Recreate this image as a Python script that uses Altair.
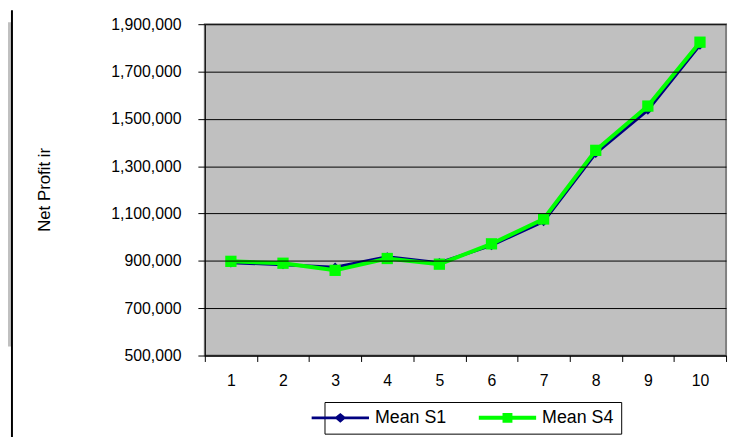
import altair as alt
import pandas as pd

x_labels = ["1", "2", "3", "4", "5", "6", "7", "8", "9", "10"]
mean_s1 = [892000, 884000, 873000, 917000, 892000, 965000, 1066000, 1354000, 1537000, 1812000]
mean_s4 = [898000, 890000, 860000, 910000, 886000, 972000, 1077000, 1367000, 1554000, 1824000]
series_names = ["Mean S1", "Mean S4"]
series_colors = ["#000080", "#00FF00"]
y_ticks = [500000, 700000, 900000, 1100000, 1300000, 1500000, 1700000, 1900000]

df = pd.DataFrame({
    "x": x_labels * 2,
    "value": mean_s1 + mean_s4,
    "series": [series_names[0]] * len(x_labels) + [series_names[1]] * len(x_labels),
})

FONT = "Liberation Sans"

x_enc = alt.X(
    "x:O", sort=x_labels, bandPosition=0.5,
    scale=alt.Scale(type="band", paddingInner=0, paddingOuter=0),
    axis=alt.Axis(title=None, labelAngle=0, tickBand="extent", ticks=True, tickSize=6,
                  tickColor="black", tickWidth=1, domainColor="black", domainWidth=1,
                  labelFont=FONT, labelFontSize=16, labelColor="black", labelPadding=11,
                  labelBaseline="top", grid=False, zindex=1),
)
y_enc = alt.Y(
    "value:Q",
    scale=alt.Scale(domain=[500000, 1900000], nice=False, zero=False),
    axis=alt.Axis(values=y_ticks, format=",d", grid=True, gridColor="black", gridWidth=1,
                  tickSize=7, tickColor="black", tickWidth=1, domainColor="black", domainWidth=1,
                  labelFont=FONT, labelFontSize=16, labelColor="black", labelPadding=17,
                  title="Net Profit ir", titleFont=FONT, titleFontSize=17, titleFontWeight="normal",
                  titleColor="black", titleAngle=270, titleAlign="center", titleBaseline="middle",
                  titleX=-162, titleY=167, zindex=1),
)

base = alt.Chart(df).encode(x=x_enc, y=y_enc)

line1 = base.transform_filter(alt.datum.series == series_names[0]).mark_line(
    color=series_colors[0], strokeWidth=3)
pts1 = base.transform_filter(alt.datum.series == series_names[0]).mark_point(
    shape="diamond", filled=True, color=series_colors[0], size=90, opacity=1)
line4 = base.transform_filter(alt.datum.series == series_names[1]).mark_line(
    color=series_colors[1], strokeWidth=4)
pts4 = base.transform_filter(alt.datum.series == series_names[1]).mark_point(
    shape="square", filled=True, color=series_colors[1], size=130, opacity=1)

# legend symbols: a line with a marker (unit = 7.25 px)
path_s1 = "M-4,-0.2L4,-0.2L4,0.2L-4,0.2Z M0,-0.69L0.83,0L0,0.69L-0.83,0Z"
path_s4 = "M-4,-0.28L4,-0.28L4,0.28L-4,0.28Z M-0.69,-0.69L0.69,-0.69L0.69,0.69L-0.69,0.69Z"

leg_props = dict(
    title=None, orient="none", legendX=121, legendY=382, direction="horizontal", columns=2,
    labelFont=FONT, labelFontSize=18, labelColor="black", labelOffset=26, labelLimit=0,
    symbolSize=210, symbolStrokeWidth=0, strokeColor="black", fillColor="white",
    padding=7, columnPadding=32, symbolOpacity=1,
)

legend_layer = alt.Chart(df).transform_filter("false").mark_point(filled=True, opacity=1).encode(
    x=x_enc, y=y_enc,
    color=alt.Color("series:N", scale=alt.Scale(domain=series_names, range=series_colors),
                    legend=alt.Legend(**leg_props)),
    shape=alt.Shape("series:N", scale=alt.Scale(domain=series_names, range=[path_s1, path_s4]),
                    legend=alt.Legend(**leg_props)),
)

deco_data = alt.Data(values=[{}])
left_sliver = alt.Chart(deco_data).mark_rect(color="#C0C0C0").encode(
    x=alt.value(-199), x2=alt.value(-195), y=alt.value(-2), y2=alt.value(326))
border = alt.Chart(deco_data).mark_rule(color="black", strokeWidth=2).encode(
    x=alt.value(-195), y=alt.value(-14), y2=alt.value(420))

chart = alt.layer(left_sliver, border, line1, pts1, line4, pts4, legend_layer).properties(
    width=527, height=335,
    autosize=alt.AutoSizeParams(type="none"),
    padding={"left": 199, "top": 14, "right": 4, "bottom": 80},
    background="white",
).configure_view(fill="#C0C0C0", stroke="#808080", strokeWidth=2)

chart.save("out.html", embed_options={"renderer": "svg", "actions": False})
